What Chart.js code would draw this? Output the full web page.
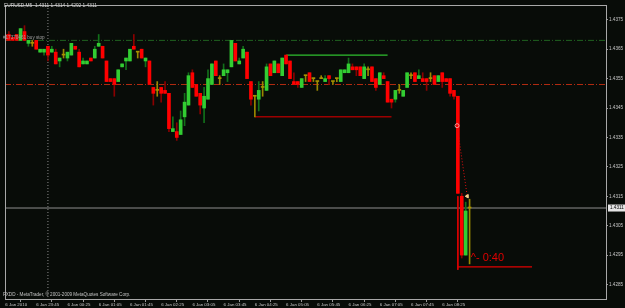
<!DOCTYPE html>
<html><head><meta charset="utf-8">
<script src="https://cdn.jsdelivr.net/npm/chart.js@4.4.1/dist/chart.umd.min.js"></script>
<style>html,body{margin:0;padding:0;background:#080c08;overflow:hidden}</style>
</head><body><canvas id="c" width="625" height="308"></canvas>
<script>
// ---- data (EURUSD M5) ----
const symbolLabel = 'EURUSD,M5';
const firstBar = -4; // bar number of the first array entry
const openP = [1.4370,1.4370,1.4369,1.4370,
 1.4368,1.4371,1.4367,1.4367,1.4368,1.4364,1.4364,1.4366,1.4364,1.4364,
 1.4361,1.4363,1.4362,1.4363,1.4366,1.4364,1.4360,1.4360,1.4362,1.4362,
 1.4366,1.4366,1.4361,1.4355,1.4355,1.4354,1.4359,1.4361,1.4361,1.4366,
 1.4364,1.4365,1.4361,1.4361,1.4352,1.4351,1.4352,1.4351,1.4350,1.4337,
 1.4337,1.4336,1.4342,1.4346,1.4357,1.4353,1.4350,1.4345,1.4348,1.4353,
 1.4361,1.4355,1.4356,1.4357,1.4359,1.4367,1.4360,1.4362,1.4364,1.4354,
 1.4349,1.4348,1.4352,1.4351,1.4360,1.4357,1.4360,1.4356,1.4363,1.4361,
 1.4354,1.4354,1.4352,1.4356,1.4357,1.4355,1.4354,1.4355,1.4354,1.4356,
 1.4354,1.4355,1.4354,1.4357,1.4357,1.4359,1.4359,1.4359,1.4355,1.4358,
 1.4359,1.4355,1.4353,1.4356,1.4354,1.4348,1.4348,1.4351,1.4349,1.4352,
 1.4356,1.4357,1.4355,1.4355,1.4355,1.4355,1.4356,1.4354,1.4357,1.4355,
 1.4355,1.4351,1.4349,1.4315,1.4295,1.4311];
const highP = [1.4370,1.4371,1.4369,1.4370,
 1.4372,1.4373,1.4368,1.4368,1.4368,1.4365,1.4365,1.4366,1.4366,1.4365,
 1.4362,1.4365,1.4364,1.4367,1.4366,1.4365,1.4362,1.4361,1.4362,1.4366,
 1.4370,1.4366,1.4361,1.4355,1.4355,1.4358,1.4360,1.4362,1.4365,1.4370,
 1.4364,1.4365,1.4362,1.4361,1.4352,1.4354,1.4352,1.4354,1.4350,1.4342,
 1.4340,1.4344,1.4350,1.4357,1.4358,1.4353,1.4350,1.4352,1.4358,1.4360,
 1.4361,1.4356,1.4360,1.4358,1.4368,1.4367,1.4362,1.4366,1.4364,1.4354,
 1.4349,1.4354,1.4354,1.4360,1.4360,1.4361,1.4360,1.4362,1.4363,1.4361,
 1.4357,1.4354,1.4355,1.4356,1.4357,1.4355,1.4354,1.4356,1.4356,1.4356,
 1.4354,1.4355,1.4358,1.4358,1.4362,1.4360,1.4359,1.4359,1.4360,1.4359,
 1.4359,1.4355,1.4357,1.4357,1.4354,1.4348,1.4351,1.4353,1.4351,1.4357,
 1.4357,1.4357,1.4358,1.4357,1.4355,1.4357,1.4356,1.4356,1.4357,1.4355,
 1.4355,1.4351,1.4349,1.4316,1.4313,1.4314];
const lowP = [1.4368,1.4368,1.4368,1.4368,
 1.4368,1.4368,1.4366,1.4366,1.4365,1.4364,1.4363,1.4361,1.4364,1.4360,
 1.4359,1.4362,1.4361,1.4363,1.4365,1.4359,1.4360,1.4360,1.4361,1.4362,
 1.4366,1.4362,1.4354,1.4354,1.4349,1.4354,1.4359,1.4358,1.4361,1.4365,
 1.4362,1.4362,1.4359,1.4353,1.4346,1.4349,1.4347,1.4350,1.4337,1.4337,
 1.4334,1.4336,1.4339,1.4346,1.4352,1.4349,1.4343,1.4340,1.4348,1.4353,
 1.4356,1.4353,1.4356,1.4354,1.4359,1.4361,1.4360,1.4362,1.4355,1.4346,
 1.4342,1.4344,1.4349,1.4351,1.4356,1.4357,1.4357,1.4356,1.4360,1.4355,
 1.4353,1.4352,1.4352,1.4354,1.4354,1.4354,1.4351,1.4355,1.4354,1.4353,
 1.4353,1.4354,1.4354,1.4357,1.4357,1.4358,1.4356,1.4356,1.4355,1.4356,
 1.4354,1.4351,1.4353,1.4355,1.4347,1.4345,1.4347,1.4350,1.4349,1.4352,
 1.4355,1.4354,1.4355,1.4354,1.4351,1.4354,1.4353,1.4354,1.4352,1.4354,
 1.4349,1.4348,1.4316,1.4294,1.4295,1.4292];
const closeP = [1.4368,1.4368,1.4368,1.4368,
 1.4372,1.4368,1.4368,1.4367,1.4365,1.4365,1.4365,1.4363,1.4365,1.4360,
 1.4362,1.4363,1.4364,1.4367,1.4365,1.4359,1.4361,1.4361,1.4361,1.4365,
 1.4367,1.4362,1.4354,1.4354,1.4353,1.4358,1.4360,1.4362,1.4365,1.4365,
 1.4364,1.4362,1.4362,1.4353,1.4350,1.4351,1.4350,1.4350,1.4338,1.4338,
 1.4335,1.4341,1.4347,1.4356,1.4352,1.4349,1.4346,1.4349,1.4355,1.4360,
 1.4356,1.4355,1.4358,1.4358,1.4368,1.4361,1.4361,1.4365,1.4355,1.4348,
 1.4349,1.4351,1.4352,1.4359,1.4356,1.4361,1.4357,1.4362,1.4360,1.4355,
 1.4353,1.4353,1.4355,1.4356,1.4354,1.4355,1.4354,1.4355,1.4355,1.4355,
 1.4354,1.4355,1.4358,1.4358,1.4360,1.4358,1.4358,1.4356,1.4359,1.4358,
 1.4354,1.4352,1.4357,1.4355,1.4347,1.4347,1.4351,1.4351,1.4351,1.4357,
 1.4356,1.4354,1.4356,1.4354,1.4354,1.4355,1.4353,1.4356,1.4354,1.4354,
 1.4350,1.4349,1.4316,1.4295,1.4310,1.4311];

const tickBars = [-3.9, 4, 12, 20, 28, 36, 44, 52, 60, 68, 76, 84, 92, 100, 108];
const tickLabels = ['6 Jan 2010','6 Jan 23:45','6 Jan 00:25','6 Jan 01:05','6 Jan 01:45','6 Jan 02:25','6 Jan 03:05',
 '6 Jan 03:45','6 Jan 04:25','6 Jan 05:05','6 Jan 05:45','6 Jan 06:25','6 Jan 07:05','6 Jan 07:45','6 Jan 08:25'];
const priceTicks = [1.4375,1.4365,1.4355,1.4345,1.4335,1.4325,1.4315,1.4305,1.4295,1.4285];

const bidPrice = 1.4311;
const buyStopPrice = 1.4368;
const redLevelPrice = 1.4353;
const separatorBar = [7];
const rangeTopBars = [68, 94];   const rangeTopPrice = [1.4363, 1.4363];
const rangeLowBars = [60, 95];   const rangeLowPrice = [1.4342, 1.4342];
const dropBars = [112, 131];     const dropPrice = [1.4291, 1.4291];
const dropVertBars = [112, 112]; const dropVertPrice = [1.4315, 1.4290];
const tradeBars = [111.8, 114.4];const tradePrice = [1.4339, 1.4315];
const timerText = '^- 0:40';     const timerBar = 115.3; const timerPrice = 1.4294;
const orderText = '#17370461 buy stop';
const copyrightText = 'FXDD - MetaTrader, \u00A9 2001-2009 MetaQuotes Software Corp.';

// ---- chart ----
const X_MIN = -3.995, X_MAX = 150.2, Y_MIN = 1.427973, Y_MAX = 1.438003;
const BULL = '#32cd32', BEAR = '#ff0000', DOJI = '#a89400';
const BULL_W = '#12701a', BEAR_W = '#8a0000', DOJI_W = '#9a8800';

const bodies = [], wicks = [], bodyCol = [], wickCol = [];
for (let k = 0; k < openP.length; k++) {
  const x = firstBar + k;
  bodies.push({x, y: [openP[k], closeP[k]]});
  wicks.push({x, y: [lowP[k], highP[k]]});
  const t = closeP[k] > openP[k] ? 0 : closeP[k] < openP[k] ? 1 : 2;
  bodyCol.push([BULL, BEAR, DOJI][t]);
  wickCol.push([BULL_W, BEAR_W, DOJI_W][t]);
}
const seg = (bars, prices) => bars.map((b, i) => ({x: b, y: prices[i]}));
const lineDs = (data, color, width, dash, order) => ({type: 'line', data, borderColor: color, borderWidth: width,
  borderDash: dash || [], pointRadius: 0, fill: false, tension: 0, order: order == null ? 5 : order});

const last = openP.length - 1;
const font = (s) => s + 'px "Liberation Sans", Arial, sans-serif';

const deco = {
  id: 'deco',
  beforeDraw(chart) {
    const c = chart.ctx;
    c.save(); c.fillStyle = '#080c08'; c.fillRect(0, 0, chart.width, chart.height); c.restore();
  },
  afterDraw(chart) {
    const c = chart.ctx, a = chart.chartArea, xs = chart.scales.x, ys = chart.scales.y;
    c.save();
    c.strokeStyle = '#a8a8a8'; c.lineWidth = 1;
    c.strokeRect(a.left + 0.5, a.top + 0.5, a.right - a.left - 1, a.bottom - a.top - 1);
    c.textBaseline = 'middle'; c.textAlign = 'left';
    c.fillStyle = '#d4d4d4'; c.font = font(4.8);
    c.fillText(symbolLabel + '  ' + [openP[last], highP[last], lowP[last], closeP[last]].map(v => v.toFixed(4)).join(' '), 4, 5.5);
    c.fillStyle = '#a0a0a0'; c.font = font(4.6);
    c.fillText(orderText, 3, ys.getPixelForValue(buyStopPrice) - 2.5);
    c.fillStyle = '#c4c4c4'; c.font = font(4.6);
    c.fillText(copyrightText, 3, 295);
    c.fillStyle = '#e00000'; c.font = font(11);
    c.fillText(timerText, xs.getPixelForValue(timerBar), ys.getPixelForValue(timerPrice));
    const py = ys.getPixelForValue(bidPrice);
    c.fillStyle = '#e4e4e4'; c.fillRect(a.right + 1, py - 3.5, chart.width - a.right - 1, 7);
    c.fillStyle = '#000'; c.font = font(4.6);
    c.fillText(bidPrice.toFixed(4), a.right + 3, py);
    c.restore();
  }
};

const noPad = s => { s.paddingTop = 0; s.paddingBottom = 0; s.paddingLeft = 0; s.paddingRight = 0; };

new Chart(document.getElementById('c'), {
  type: 'bar',
  data: {
    datasets: [
      {type: 'bar', data: bodies, backgroundColor: bodyCol, barThickness: 3, grouped: false, minBarLength: 1, borderWidth: 0, order: 1},
      {type: 'bar', data: wicks, backgroundColor: wickCol, barThickness: 1, grouped: false, borderWidth: 0, order: 2},
      lineDs(seg([X_MIN, X_MAX], [buyStopPrice, buyStopPrice]), '#1f621f', 1, [6, 2, 1, 2]),
      lineDs(seg([X_MIN, X_MAX], [redLevelPrice, redLevelPrice]), '#b02a10', 1, [6, 2, 1, 2]),
      lineDs(seg([X_MIN, X_MAX], [bidPrice, bidPrice]), '#8e8e8e', 1),
      lineDs(seg([separatorBar[0], separatorBar[0]], [Y_MIN, Y_MAX]), '#8a8a8a', 1, [1, 2]),
      lineDs(seg(rangeTopBars, rangeTopPrice), '#2ebf2e', 1.3),
      lineDs(seg(rangeLowBars, rangeLowPrice), '#9c0000', 1.5),
      lineDs(seg(dropBars, dropPrice), '#e00000', 1.3),
      lineDs(seg(dropVertBars, dropVertPrice), '#e00000', 1, null, 3),
      {type: 'line', data: seg(tradeBars, tradePrice), borderColor: '#e01010', borderWidth: 1, borderDash: [1, 2],
       pointRadius: 2, pointStyle: ['circle', 'triangle'], pointRotation: [0, -90],
       pointBackgroundColor: ['rgba(0,0,0,0)', '#f2d08a'], pointBorderColor: ['#ff9a9a', '#f2d08a'], pointBorderWidth: 1, order: 0}
    ]
  },
  options: {
    responsive: false, devicePixelRatio: 1, animation: false,
    layout: {padding: {left: 1, top: 1, right: 0, bottom: 0}},
    plugins: {legend: {display: false}, tooltip: {enabled: false}},
    scales: {
      x: {type: 'linear', min: X_MIN, max: X_MAX, offset: false,
        afterBuildTicks: s => { s.ticks = tickBars.map(v => ({value: v})); },
        afterFit: s => { s.height = 8; noPad(s); },
        ticks: {autoSkip: false, maxRotation: 0, minRotation: 0, align: 'start', padding: 0, color: '#c8c8c8',
          font: {family: '"Liberation Sans", Arial, sans-serif', size: 4.4}, callback: (v, i) => tickLabels[i]},
        grid: {display: true, drawOnChartArea: false, drawTicks: true, tickLength: 2, color: '#9a9a9a'},
        border: {display: false}},
      y: {position: 'right', min: Y_MIN, max: Y_MAX,
        afterBuildTicks: s => { s.ticks = priceTicks.map(v => ({value: v})); },
        afterFit: s => { s.width = 18; noPad(s); },
        ticks: {color: '#c8c8c8', padding: 1, font: {family: '"Liberation Sans", Arial, sans-serif', size: 4.6},
          callback: v => Number(v).toFixed(4)},
        grid: {display: true, drawOnChartArea: false, drawTicks: true, tickLength: 1, color: '#9a9a9a'},
        border: {display: false}}
    }
  },
  plugins: [deco]
});
</script></body></html>
